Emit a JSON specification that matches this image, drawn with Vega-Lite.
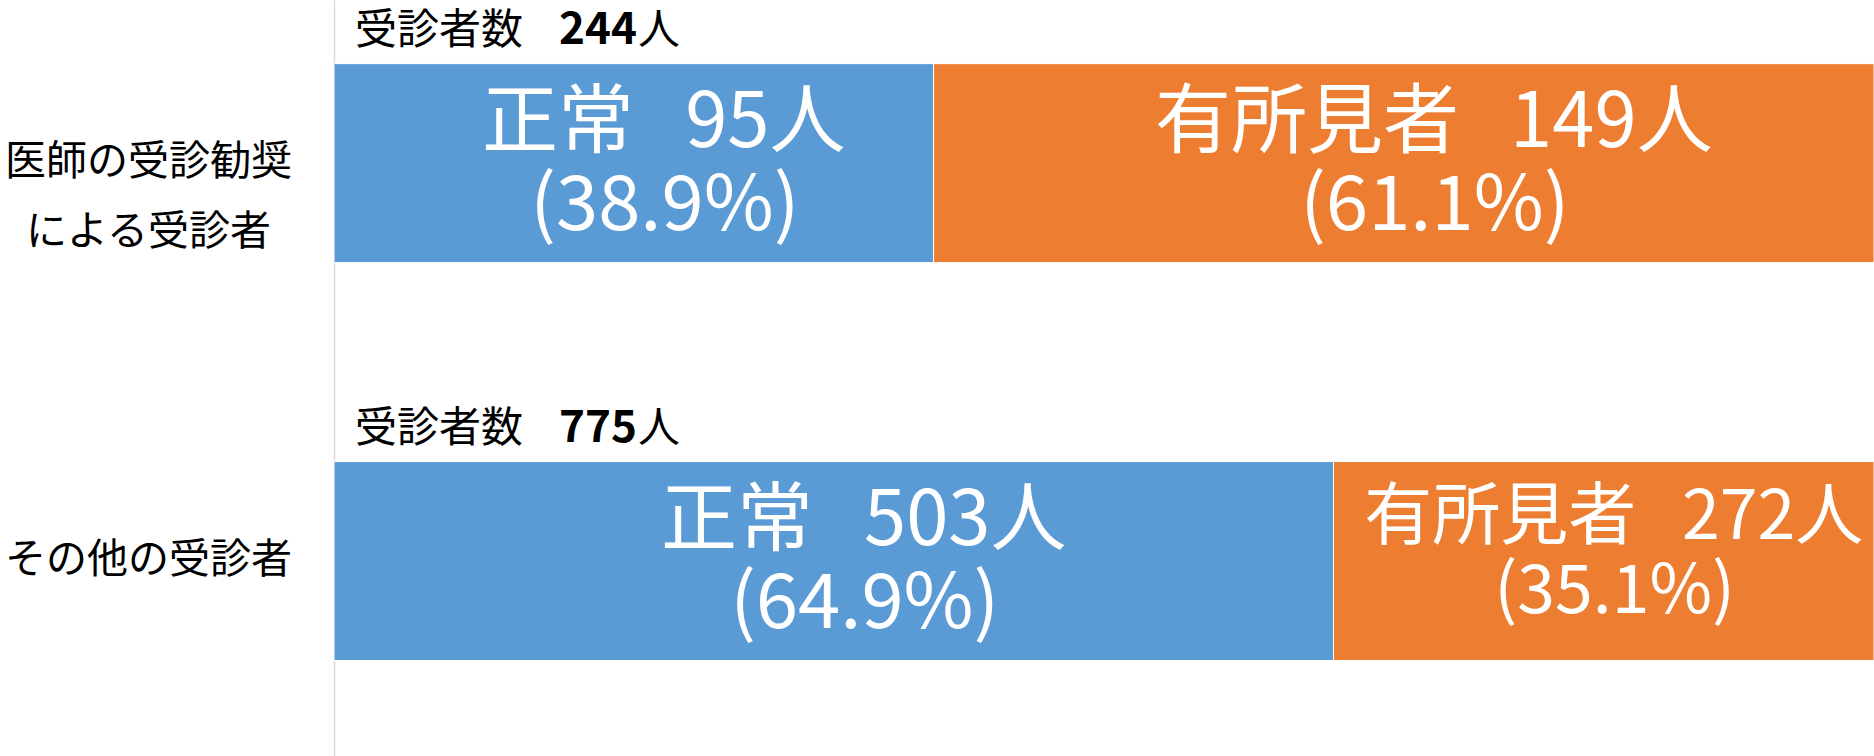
{
  "$schema": "https://vega.github.io/schema/vega-lite/v6.json",
  "width": 1540,
  "height": 756,
  "autosize": {"type": "none"},
  "padding": {"left": 334, "top": 0, "right": 0, "bottom": 0},
  "background": "white",
  "config": {"view": {"stroke": null}, "font": "Noto Sans CJK JP"},
  "datasets": {
    "seg": [
      {"group": "医師の受診勧奨による受診者", "status": "正常", "count": 95, "mid": 0.1947, "line1": "正常\u00a0\u00a0\u00a095人", "line2": "(38.9%)"},
      {"group": "医師の受診勧奨による受診者", "status": "有所見者", "count": 149, "mid": 0.6947, "line1": "有所見者\u00a0\u00a0\u00a0149人", "line2": "(61.1%)"},
      {"group": "その他の受診者", "status": "正常", "count": 503, "mid": 0.3245, "line1": "正常\u00a0\u00a0\u00a0503人", "line2": "(64.9%)"},
      {"group": "その他の受診者", "status": "有所見者", "count": 272, "mid": 0.8245, "line1": "有所見者\u00a0\u00a0\u00a0272人", "line2": "(35.1%)"}
    ],
    "hdr": [
      {"group": "医師の受診勧奨による受診者", "total": 244},
      {"group": "その他の受診者", "total": 775}
    ]
  },
  "layer": [
    {
      "data": {"name": "seg"},
      "mark": {"type": "bar", "stroke": "white", "strokeWidth": 1},
      "encoding": {
        "y": {
          "field": "group", "type": "nominal", "title": null,
          "sort": ["医師の受診勧奨による受診者", "その他の受診者"],
          "scale": {"domain": ["医師の受診勧奨による受診者", "その他の受診者"], "paddingInner": 0.5, "paddingOuter": 0.2, "align": 0.4},
          "axis": {
            "domain": true, "domainColor": "#D9D9D9", "domainWidth": 1.5,
            "ticks": false, "labelPadding": 186, "labelAlign": "center", "labelBaseline": "middle",
            "labelFontSize": 41, "labelColor": "#000000", "labelFont": "Noto Sans CJK JP",
            "labelLineHeight": 70, "labelLimit": 400,
            "labelExpr": "datum.label == '医師の受診勧奨による受診者' ? ['医師の受診勧奨', 'による受診者'] : datum.label"
          }
        },
        "x": {"field": "count", "type": "quantitative", "stack": "normalize", "axis": null, "scale": {"domain": [0, 1], "nice": false}},
        "color": {"field": "status", "type": "nominal", "legend": null, "scale": {"domain": ["正常", "有所見者"], "range": ["#5B9BD5", "#ED7D31"]}},
        "order": {"field": "status", "type": "ordinal", "sort": "descending"}
      }
    },
    {
      "data": {"name": "seg"},
      "transform": [{"filter": "!(datum.group == 'その他の受診者' && datum.status == '有所見者')"}],
      "mark": {"type": "text", "color": "white", "fontSize": 76, "align": "center", "baseline": "middle", "dx": 30, "dy": -39},
      "encoding": {
        "y": {"field": "group", "type": "nominal"},
        "x": {"field": "mid", "type": "quantitative"},
        "text": {"field": "line1"}
      }
    },
    {
      "data": {"name": "seg"},
      "transform": [{"filter": "!(datum.group == 'その他の受診者' && datum.status == '有所見者')"}],
      "mark": {"type": "text", "color": "white", "fontSize": 76, "align": "center", "baseline": "middle", "dx": 31, "dy": 44},
      "encoding": {
        "y": {"field": "group", "type": "nominal"},
        "x": {"field": "mid", "type": "quantitative"},
        "text": {"field": "line2"}
      }
    },
    {
      "data": {"name": "seg"},
      "transform": [{"filter": "datum.group == 'その他の受診者' && datum.status == '有所見者'"}],
      "mark": {"type": "text", "color": "white", "fontSize": 68, "align": "center", "baseline": "middle", "dx": 10, "dy": -42},
      "encoding": {
        "y": {"field": "group", "type": "nominal"},
        "x": {"field": "mid", "type": "quantitative"},
        "text": {"field": "line1"}
      }
    },
    {
      "data": {"name": "seg"},
      "transform": [{"filter": "datum.group == 'その他の受診者' && datum.status == '有所見者'"}],
      "mark": {"type": "text", "color": "white", "fontSize": 68, "align": "center", "baseline": "middle", "dx": 11, "dy": 32},
      "encoding": {
        "y": {"field": "group", "type": "nominal"},
        "x": {"field": "mid", "type": "quantitative"},
        "text": {"field": "line2"}
      }
    },
    {
      "data": {"name": "hdr"},
      "mark": {"type": "text", "color": "black", "fontSize": 42, "align": "left", "baseline": "middle", "dx": 21, "dy": -33},
      "encoding": {
        "y": {"field": "group", "type": "nominal", "bandPosition": 0},
        "x": {"datum": 0},
        "text": {"value": "受診者数"}
      }
    },
    {
      "data": {"name": "hdr"},
      "mark": {"type": "text", "color": "black", "fontSize": 44, "fontWeight": "bold", "align": "center", "baseline": "middle", "dx": 264, "dy": -33},
      "encoding": {
        "y": {"field": "group", "type": "nominal", "bandPosition": 0},
        "x": {"datum": 0},
        "text": {"field": "total"}
      }
    },
    {
      "data": {"name": "hdr"},
      "mark": {"type": "text", "color": "black", "fontSize": 42, "align": "left", "baseline": "middle", "dx": 304, "dy": -33},
      "encoding": {
        "y": {"field": "group", "type": "nominal", "bandPosition": 0},
        "x": {"datum": 0},
        "text": {"value": "人"}
      }
    }
  ]
}
